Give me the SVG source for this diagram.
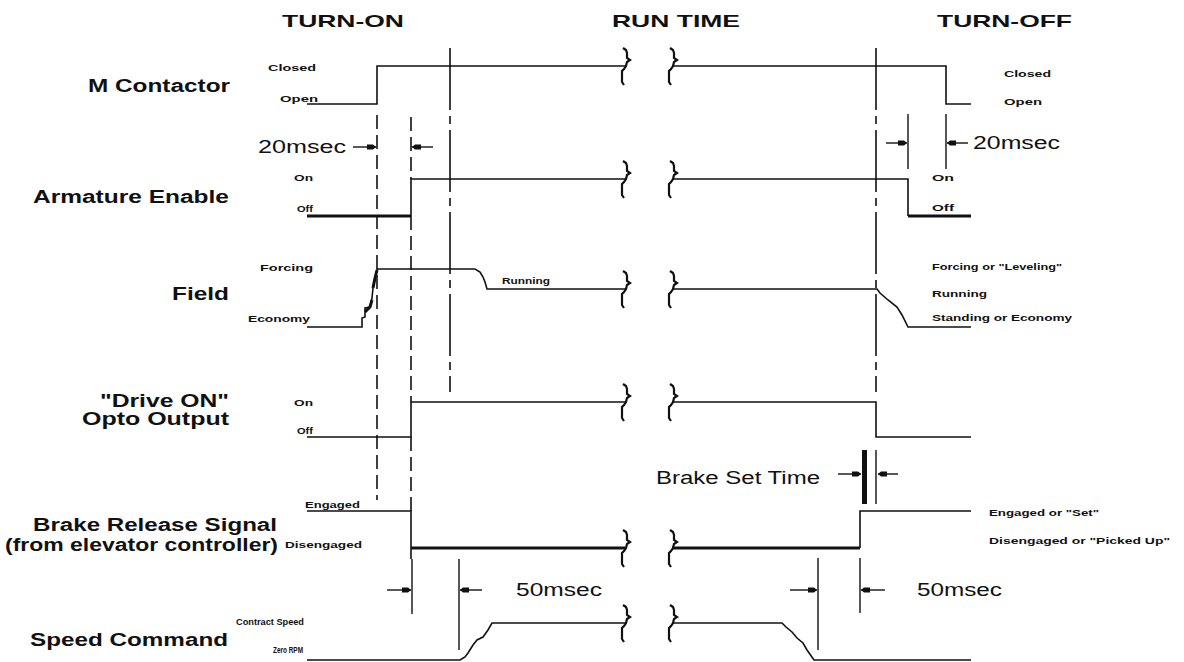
<svg xmlns="http://www.w3.org/2000/svg" width="1184" height="662" viewBox="0 0 1184 662">
<style>
text{font-family:"Liberation Sans",Arial,sans-serif;fill:#111}
.ttl{font-size:17px;font-weight:bold}
.lbl{font-size:18px;font-weight:bold}
.sm{font-size:8.5px;font-weight:bold}
.dim{font-size:18px}
.sig{fill:none;stroke:#111;stroke-width:1.6}
.thk{fill:none;stroke:#111;stroke-width:3}
.dash{fill:none;stroke:#111;stroke-width:1.6;stroke-dasharray:14 6}
.dd{fill:none;stroke:#111;stroke-width:1.6;stroke-dasharray:62 6 8 6}
.br{fill:none;stroke:#111;stroke-width:2.2}
.dl{fill:none;stroke:#111;stroke-width:1.4}
</style>
<defs>
<path id="brace" d="M-2,-18 L1,-16 L2,-13 L2,-8 L5,-6 L2,-4 L1,0 L-1,3 L-3,5 L-3,13 L-3,16 L-1,19"/>
<marker id="ah" markerUnits="userSpaceOnUse" markerWidth="12" markerHeight="8" refX="10" refY="4" orient="auto">
<path d="M1,1.5 L7,1.5 L10,4 L7,6.5 L1,6.5 Z" fill="#111"/>
</marker>
</defs>
<rect width="1184" height="662" fill="#fff"/>

<g id="titles">
<text class="ttl" x="282" y="27" textLength="122" lengthAdjust="spacingAndGlyphs">TURN-ON</text>
<text class="ttl" x="612" y="27" textLength="128" lengthAdjust="spacingAndGlyphs">RUN TIME</text>
<text class="ttl" x="937" y="27" textLength="135" lengthAdjust="spacingAndGlyphs">TURN-OFF</text>
</g>

<g id="m-contactor">
<text class="lbl" x="88" y="92" textLength="142" lengthAdjust="spacingAndGlyphs">M Contactor</text>
<text class="sm" x="268" y="71" textLength="48" lengthAdjust="spacingAndGlyphs">Closed</text>
<text class="sm" x="280" y="102" textLength="38" lengthAdjust="spacingAndGlyphs">Open</text>
<polyline class="sig" points="307,104 377,104 377,66 625,66"/>
<polyline class="sig" points="672,66 946,66 946,104 971,104"/>
<use href="#brace" class="br" x="625" y="66"/>
<use href="#brace" class="br" x="672" y="66"/>
<text class="sm" x="1004" y="77" textLength="47" lengthAdjust="spacingAndGlyphs">Closed</text>
<text class="sm" x="1004" y="105" textLength="38" lengthAdjust="spacingAndGlyphs">Open</text>
</g>

<g id="armature-enable">
<text class="lbl" x="33" y="203" textLength="196" lengthAdjust="spacingAndGlyphs">Armature Enable</text>
<text class="sm" x="294" y="181" textLength="19" lengthAdjust="spacingAndGlyphs">On</text>
<text class="sm" x="297" y="212" textLength="16" lengthAdjust="spacingAndGlyphs">Off</text>
<polyline class="thk" points="307,216 411,216"/>
<polyline class="sig" points="411,216 411,179 625,179"/>
<polyline class="sig" points="672,179 908,179 908,216"/>
<polyline class="thk" points="908,216 971,216"/>
<use href="#brace" class="br" x="625" y="179"/>
<use href="#brace" class="br" x="672" y="179"/>
<text class="sm" x="932" y="181" textLength="22" lengthAdjust="spacingAndGlyphs">On</text>
<text class="sm" x="932" y="211" textLength="22" lengthAdjust="spacingAndGlyphs">Off</text>
</g>

<g id="field">
<text class="lbl" x="172" y="300" textLength="57" lengthAdjust="spacingAndGlyphs">Field</text>
<text class="sm" x="260" y="271" textLength="53" lengthAdjust="spacingAndGlyphs">Forcing</text>
<text class="sm" x="248" y="322" textLength="62" lengthAdjust="spacingAndGlyphs">Economy</text>
<polyline class="sig" points="307,327 362,327 362,318 365,317 365,308 370,307 372,298 373,288 375,278 377,270 377,269 475,269 480,272 483,277 485,282 487,289 625,289"/>
<polyline class="thk" points="365,312 370,307 372,300"/>
<polyline class="thk" points="373,288 375,278 377,270"/>
<text class="sm" x="502" y="284" textLength="48" lengthAdjust="spacingAndGlyphs">Running</text>
<polyline class="sig" points="672,289 877,289 880,293 888,300 897,307 902,315 908,327 971,327"/>
<use href="#brace" class="br" x="625" y="289"/>
<use href="#brace" class="br" x="672" y="289"/>
<text class="sm" x="932" y="270" textLength="130" lengthAdjust="spacingAndGlyphs">Forcing or "Leveling"</text>
<text class="sm" x="932" y="297" textLength="55" lengthAdjust="spacingAndGlyphs">Running</text>
<text class="sm" x="932" y="321" textLength="140" lengthAdjust="spacingAndGlyphs">Standing or Economy</text>
</g>

<g id="drive-on">
<text class="lbl" x="100" y="407" textLength="129" lengthAdjust="spacingAndGlyphs">"Drive ON"</text>
<text class="lbl" x="82" y="425" textLength="147" lengthAdjust="spacingAndGlyphs">Opto Output</text>
<text class="sm" x="294" y="406" textLength="19" lengthAdjust="spacingAndGlyphs">On</text>
<text class="sm" x="297" y="434" textLength="16" lengthAdjust="spacingAndGlyphs">Off</text>
<polyline class="sig" points="307,437 411,437 411,402 625,402"/>
<polyline class="sig" points="672,402 876,402 876,437 971,437"/>
<use href="#brace" class="br" x="625" y="402"/>
<use href="#brace" class="br" x="672" y="402"/>
</g>

<g id="brake-release">
<text class="lbl" x="33" y="531" textLength="244" lengthAdjust="spacingAndGlyphs">Brake Release Signal</text>
<text class="lbl" x="5" y="551" textLength="273" lengthAdjust="spacingAndGlyphs">(from elevator controller)</text>
<text class="sm" x="305" y="508" textLength="55" lengthAdjust="spacingAndGlyphs">Engaged</text>
<text class="sm" x="285" y="548" textLength="77" lengthAdjust="spacingAndGlyphs">Disengaged</text>
<polyline class="sig" points="307,511 411,511 411,548"/>
<polyline class="thk" points="411,548 625,548"/>
<polyline class="thk" points="672,548 860,548"/>
<polyline class="sig" points="860,548 860,511 971,511"/>
<use href="#brace" class="br" x="625" y="548"/>
<use href="#brace" class="br" x="672" y="548"/>
<text class="sm" x="989" y="516" textLength="110" lengthAdjust="spacingAndGlyphs">Engaged or "Set"</text>
<text class="sm" x="989" y="544" textLength="181" lengthAdjust="spacingAndGlyphs">Disengaged or "Picked Up"</text>
</g>

<g id="speed-command">
<text class="lbl" x="30" y="646" textLength="198" lengthAdjust="spacingAndGlyphs">Speed Command</text>
<text class="sm" x="236" y="625" textLength="68" lengthAdjust="spacingAndGlyphs">Contract Speed</text>
<text class="sm" x="273" y="653" textLength="30" lengthAdjust="spacingAndGlyphs">Zero RPM</text>
<polyline class="sig" points="307,660 460,660 465,657 468,653 473,645 477,640 483,637 488,630 492,623 625,623"/>
<polyline class="sig" points="672,623 782,623 786,627 792,632 797,638 803,643 807,650 814,660 971,660"/>
<use href="#brace" class="br" x="625" y="623"/>
<use href="#brace" class="br" x="672" y="623"/>
</g>

<g id="connectors">
<line class="dash" x1="377" y1="115" x2="377" y2="500"/>
<line class="dash" x1="411" y1="117" x2="411" y2="179"/>
<line class="dash" x1="411" y1="216" x2="411" y2="402"/>
<line class="dash" x1="411" y1="437" x2="411" y2="511"/>
<line class="dash" x1="411" y1="548" x2="411" y2="559"/>
<line class="dd" x1="450" y1="48" x2="450" y2="392"/>
<line class="dd" x1="876" y1="48" x2="876" y2="392"/>
<line class="dl" x1="353" y1="147" x2="376" y2="147" marker-end="url(#ah)"/>
<line class="dl" x1="433" y1="147" x2="412" y2="147" marker-end="url(#ah)"/>
<text class="dim" x="258" y="153" textLength="88" lengthAdjust="spacingAndGlyphs">20msec</text>
<line class="dl" x1="908" y1="114" x2="908" y2="169"/>
<line class="dl" x1="946" y1="114" x2="946" y2="169"/>
<line class="dl" x1="886" y1="143" x2="907" y2="143" marker-end="url(#ah)"/>
<line class="dl" x1="968" y1="143" x2="947" y2="143" marker-end="url(#ah)"/>
<text class="dim" x="973" y="149" textLength="87" lengthAdjust="spacingAndGlyphs">20msec</text>
<text class="dim" x="656" y="484" textLength="164" lengthAdjust="spacingAndGlyphs">Brake Set Time</text>
<line x1="864.5" y1="450" x2="864.5" y2="504" stroke="#111" stroke-width="5"/>
<line class="dl" x1="876" y1="450" x2="876" y2="504"/>
<line class="dl" x1="838" y1="474" x2="861" y2="474" marker-end="url(#ah)"/>
<line class="dl" x1="898" y1="474" x2="878" y2="474" marker-end="url(#ah)"/>
<line class="dl" x1="412" y1="559" x2="412" y2="614"/>
<line class="dl" x1="459" y1="559" x2="459" y2="650"/>
<line class="dl" x1="387" y1="590" x2="411" y2="590" marker-end="url(#ah)"/>
<line class="dl" x1="482" y1="590" x2="460" y2="590" marker-end="url(#ah)"/>
<text class="dim" x="516" y="596" textLength="86" lengthAdjust="spacingAndGlyphs">50msec</text>
<line class="dl" x1="818" y1="558" x2="818" y2="650"/>
<line class="dl" x1="860" y1="558" x2="860" y2="613"/>
<line class="dl" x1="790" y1="590" x2="817" y2="590" marker-end="url(#ah)"/>
<line class="dl" x1="885" y1="590" x2="861" y2="590" marker-end="url(#ah)"/>
<text class="dim" x="917" y="596" textLength="85" lengthAdjust="spacingAndGlyphs">50msec</text>
</g>
</svg>
